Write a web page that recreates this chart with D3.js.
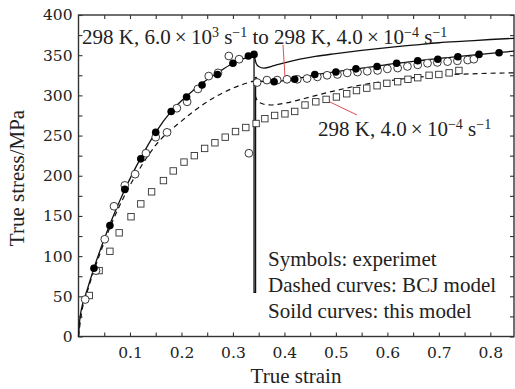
<!DOCTYPE html>
<html>
<head>
<meta charset="utf-8">
<script src="https://cdn.jsdelivr.net/npm/d3@7"></script>
<style>
  body { margin: 0; background: #fff; }
  svg { display: block; }
  .tick text { font-family: "DejaVu Serif", serif; font-size: 15.5px; fill: #222; }
  .note { font-family: "Liberation Serif", serif; font-size: 21px; fill: #222; }
</style>
</head>
<body>
<svg id="chart" width="515" height="389"></svg>
<script>
// tick values
const xTickValues = d3.range(1, 17).map(i => +(i * 0.05).toFixed(2));
const xLabelValues = [0.1, 0.2, 0.3, 0.4, 0.5, 0.6, 0.7, 0.8];
const yTickValues = d3.range(0, 401, 25);
const yLabelValues = [0, 50, 100, 150, 200, 250, 300, 350, 400];

// model curves [strain, stress]
const solidPre = [[0, 0], [0.002, 18], [0.006, 35], [0.013, 50], [0.03, 85], [0.06, 138], [0.09, 183],
  [0.12, 221], [0.15, 254], [0.18, 280], [0.21, 299], [0.24, 315], [0.27, 328], [0.30, 340], [0.33, 348], [0.341, 351]];
const solidJump = [[0.341, 351], [0.341, 55], [0.344, 55], [0.344, 323]];
const solidLow = [[0.344, 323], [0.35, 319], [0.36, 317], [0.375, 316.5], [0.39, 317.5], [0.42, 320.5], [0.46, 325.5],
  [0.5, 329.5], [0.54, 333], [0.58, 336.5], [0.62, 340], [0.66, 343], [0.7, 346], [0.74, 348.5], [0.78, 351], [0.82, 353.5], [0.846, 355]];
const solidHigh = [[0.341, 351], [0.345, 340], [0.35, 336], [0.36, 334], [0.38, 337], [0.4, 340.5], [0.43, 345], [0.46, 348.5],
  [0.5, 352], [0.55, 356], [0.6, 359.5], [0.65, 362.5], [0.7, 365.5], [0.75, 367.5], [0.8, 369.5], [0.846, 371]];
const dashedPre = [[0, 0], [0.005, 25], [0.02, 62], [0.04, 100], [0.06, 134], [0.08, 163], [0.1, 188], [0.12, 210],
  [0.15, 238], [0.2, 268], [0.25, 292], [0.3, 309], [0.341, 318]];
const dashedPost = [[0.343, 300], [0.348, 293], [0.36, 289], [0.375, 288], [0.39, 289], [0.42, 293], [0.45, 298],
  [0.5, 306], [0.55, 313], [0.6, 318], [0.65, 322], [0.7, 325], [0.75, 326.5], [0.8, 327.5], [0.846, 328]];

// experiments
const openCircles = [[0.013, 46], [0.034, 82], [0.051, 121], [0.069, 162], [0.09, 188], [0.11, 202], [0.131, 228],
  [0.15, 248], [0.172, 254], [0.191, 284], [0.211, 292], [0.232, 308], [0.253, 324], [0.271, 328], [0.292, 349],
  [0.312, 345], [0.331, 228],
  [0.347, 316], [0.366, 319], [0.386, 319], [0.405, 320], [0.425, 320], [0.444, 321], [0.464, 323], [0.483, 325],
  [0.503, 326], [0.522, 328], [0.542, 329], [0.561, 330], [0.581, 331], [0.6, 333], [0.62, 334], [0.639, 336],
  [0.659, 338], [0.678, 340], [0.697, 341], [0.717, 342], [0.736, 343], [0.756, 344], [0.768, 345]];
const filledCircles = [[0.03, 85], [0.061, 138], [0.09, 183], [0.121, 221], [0.15, 254], [0.18, 280], [0.21, 298],
  [0.24, 313], [0.27, 326], [0.30, 340], [0.33, 349], [0.341, 351],
  [0.38, 317], [0.42, 320], [0.459, 326], [0.5, 329], [0.539, 333], [0.58, 336], [0.618, 340], [0.659, 343],
  [0.698, 345], [0.737, 348], [0.778, 351], [0.817, 353]];
const squares = [[0.021, 51], [0.04, 82], [0.061, 106], [0.079, 129], [0.102, 149], [0.121, 165], [0.142, 180],
  [0.165, 194], [0.184, 206], [0.205, 217], [0.225, 225], [0.245, 234], [0.265, 241], [0.285, 248], [0.305, 255],
  [0.325, 260], [0.345, 265], [0.362, 271], [0.381, 275], [0.401, 277], [0.42, 280], [0.44, 288], [0.461, 292],
  [0.481, 295], [0.501, 298], [0.521, 302], [0.54, 306], [0.56, 309], [0.58, 312], [0.599, 315], [0.62, 317],
  [0.64, 320], [0.659, 322], [0.681, 325], [0.7, 326], [0.72, 328], [0.739, 331]];

const svg = d3.select("#chart");
const x = d3.scaleLinear().domain([0, 0.846]).range([78.5, 514]);
const y = d3.scaleLinear().domain([0, 400]).range([336.5, 15]);

// axes, ticks inward
const fmtX = d => xLabelValues.includes(d) ? d3.format(".1f")(d) : "";
const fmtY = d => yLabelValues.includes(d) ? d : "";

svg.append("g").attr("transform", `translate(0,${y(0)})`)
  .call(d3.axisBottom(x).tickValues(xTickValues).tickSize(-4).tickPadding(10).tickFormat(fmtX));
svg.append("g").attr("transform", `translate(0,${y(400)})`)
  .call(d3.axisTop(x).tickValues(xTickValues).tickSize(-4).tickFormat(""));
svg.append("g").attr("transform", `translate(${x(0)},0)`)
  .call(d3.axisLeft(y).tickValues(yTickValues).tickSize(-4).tickPadding(6).tickFormat(fmtY));
svg.append("g").attr("transform", `translate(${x(0.846)},0)`)
  .call(d3.axisRight(y).tickValues(yTickValues).tickSize(-4).tickFormat(""));
svg.selectAll(".domain").remove();
svg.selectAll(".tick line").attr("stroke", "#333").attr("stroke-width", 1.1);

svg.append("rect")
  .attr("x", x(0)).attr("y", y(400))
  .attr("width", x(0.846) - x(0)).attr("height", y(0) - y(400))
  .attr("fill", "none").attr("stroke", "#333").attr("stroke-width", 1.4);

// curves
const smooth = d3.line().x(d => x(d[0])).y(d => y(d[1])).curve(d3.curveMonotoneX);
const straight = d3.line().x(d => x(d[0])).y(d => y(d[1]));

[solidPre, solidLow, solidHigh].forEach(s => {
  svg.append("path").attr("d", smooth(s)).attr("fill", "none").attr("stroke", "#111").attr("stroke-width", 1.3);
});
svg.append("path").attr("d", straight(solidJump)).attr("fill", "none").attr("stroke", "#111").attr("stroke-width", 1.3);
[dashedPre, dashedPost].forEach(s => {
  svg.append("path").attr("d", smooth(s)).attr("fill", "none").attr("stroke", "#111")
    .attr("stroke-width", 1.2).attr("stroke-dasharray", "5,4");
});

// markers
svg.append("g").selectAll("rect").data(squares).join("rect")
  .attr("x", d => x(d[0]) - 3.2).attr("y", d => y(d[1]) - 3.2)
  .attr("width", 6.4).attr("height", 6.4)
  .attr("fill", "#fff").attr("stroke", "#333").attr("stroke-width", 0.9);
svg.append("g").selectAll("circle").data(openCircles).join("circle")
  .attr("cx", d => x(d[0])).attr("cy", d => y(d[1])).attr("r", 3.9)
  .attr("fill", "#fff").attr("stroke", "#222").attr("stroke-width", 0.9);
svg.append("g").selectAll("circle").data(filledCircles).join("circle")
  .attr("cx", d => x(d[0])).attr("cy", d => y(d[1])).attr("r", 3.8)
  .attr("fill", "#000");

// pointer lines
svg.append("line").attr("x1", 283).attr("y1", 45).attr("x2", 285).attr("y2", 77)
  .attr("stroke", "#e05050").attr("stroke-width", 1);
svg.append("line").attr("x1", 330).attr("y1", 102).attr("x2", 357).attr("y2", 115)
  .attr("stroke", "#e05050").attr("stroke-width", 1);

// annotations
function rate(t, parts) {
  parts.forEach(p => {
    const ts = t.append("tspan").text(p[0]);
    if (p[1]) ts.attr("font-size", "14px").attr("baseline-shift", "7px");
  });
}
const t1 = svg.append("text").attr("class", "note").attr("x", 82).attr("y", 44);
rate(t1, [["298 K, 6.0\u2009\u00d7\u200910"], ["3", true], [" s"], ["\u22121", true], [" to 298 K, 4.0\u2009\u00d7\u200910"], ["\u22124", true], [" s"], ["\u22121", true]]);
const t2 = svg.append("text").attr("class", "note").attr("x", 318).attr("y", 136);
rate(t2, [["298 K, 4.0\u2009\u00d7\u200910"], ["\u22124", true], [" s"], ["\u22121", true]]);

const legendLines = ["Symbols: experimet", "Dashed curves: BCJ model", "Soild curves: this model"];
legendLines.forEach((s, i) => {
  svg.append("text").attr("class", "note").attr("x", 268).attr("y", 266 + i * 26).text(s);
});

svg.append("text").attr("class", "note").attr("font-size", "20px")
  .attr("x", 296).attr("y", 383).attr("text-anchor", "middle").text("True strain");
svg.append("text").attr("class", "note").attr("font-size", "20px")
  .attr("transform", "translate(24,178) rotate(-90)").attr("text-anchor", "middle").text("True stress/MPa");
</script>
</body>
</html>
